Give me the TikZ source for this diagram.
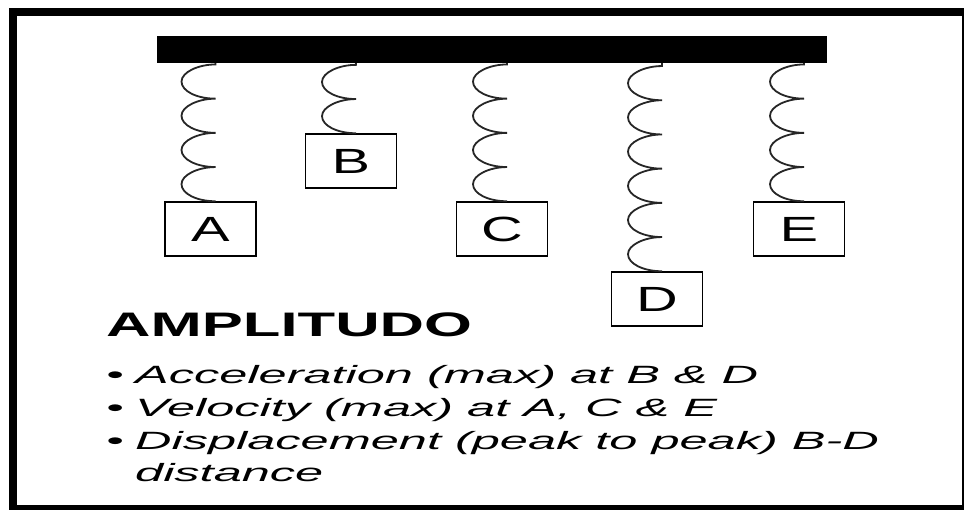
\documentclass[tikz,border=0pt]{standalone}
\usepackage{graphicx}
\usepackage{fontspec}
\setmainfont{Liberation Sans}
\usetikzlibrary{decorations.pathmorphing}
\newcommand{\wide}[2]{\scalebox{#1}[1]{#2}}

\begin{document}
\begin{tikzpicture}[x=1pt, y=-1pt,
    mass/.style={draw, line width=1.5pt, minimum width=91pt, minimum height=54pt, inner sep=0pt, font=\fontsize{35}{40}\selectfont},
    spring/.style={draw=black!85, line width=1.8pt, decorate, decoration={bumps, segment length=68.4pt, amplitude=34pt}},
    item/.style={anchor=base west, inner sep=0pt, font=\fontsize{25}{30}\selectfont\itshape}]
    \clip (0,0) rectangle (964,509);
    \fill[white] (0,0) rectangle (964,509);
    \draw[line width=8pt] (13,12) rectangle (966,509);
    % beam and masses
    \node[fill=black, minimum width=670pt, minimum height=27pt, inner sep=0pt] (bar) at (492,49.5) {};
    \node[mass] (A) at (210.5,229) {\wide{1.65}{A}};
    \node[mass] (B) at (351,161)   {\wide{1.65}{B}};
    \node[mass] (C) at (502,229)   {\wide{1.65}{C}};
    \node[mass] (D) at (657,299)   {\wide{1.65}{D}};
    \node[mass] (E) at (799,229)   {\wide{1.65}{E}};
    % springs
    \draw[spring] ([xshift=5pt]A.north) -- ([xshift=5pt]A.north |- bar.south);
    \draw[spring] ([xshift=5pt]B.north) -- ([xshift=5pt]B.north |- bar.south);
    \draw[spring] ([xshift=5pt]C.north) -- ([xshift=5pt]C.north |- bar.south);
    \draw[spring] ([xshift=5pt]D.north) -- ([xshift=5pt]D.north |- bar.south);
    \draw[spring] ([xshift=5pt]E.north) -- ([xshift=5pt]E.north |- bar.south);
    % text
    \node[anchor=base west, inner sep=0pt, font=\fontsize{34}{40}\selectfont\bfseries] (title) at (106,336) {\wide{1.81}{AMPLITUDO}};
    \node[item] (b1) at (106,383) {\wide{2}{•}};
    \node[item] (b2) at (106,416) {\wide{2}{•}};
    \node[item] (b3) at (106,449) {\wide{2}{•}};
    \node[item] (acc) at (135,383) {\wide{2.02}{Acceleration (max) at B \& D}};
    \node[item] (vel) at (135,416) {\wide{2.02}{Velocity (max) at A, C \& E}};
    \node[item] (dis) at (135,449) {\wide{2.02}{Displacement (peak to peak) B-D}};
    \node[item] (dis2) at (135,481) {\wide{2.02}{distance}};
\end{tikzpicture}
\end{document}
